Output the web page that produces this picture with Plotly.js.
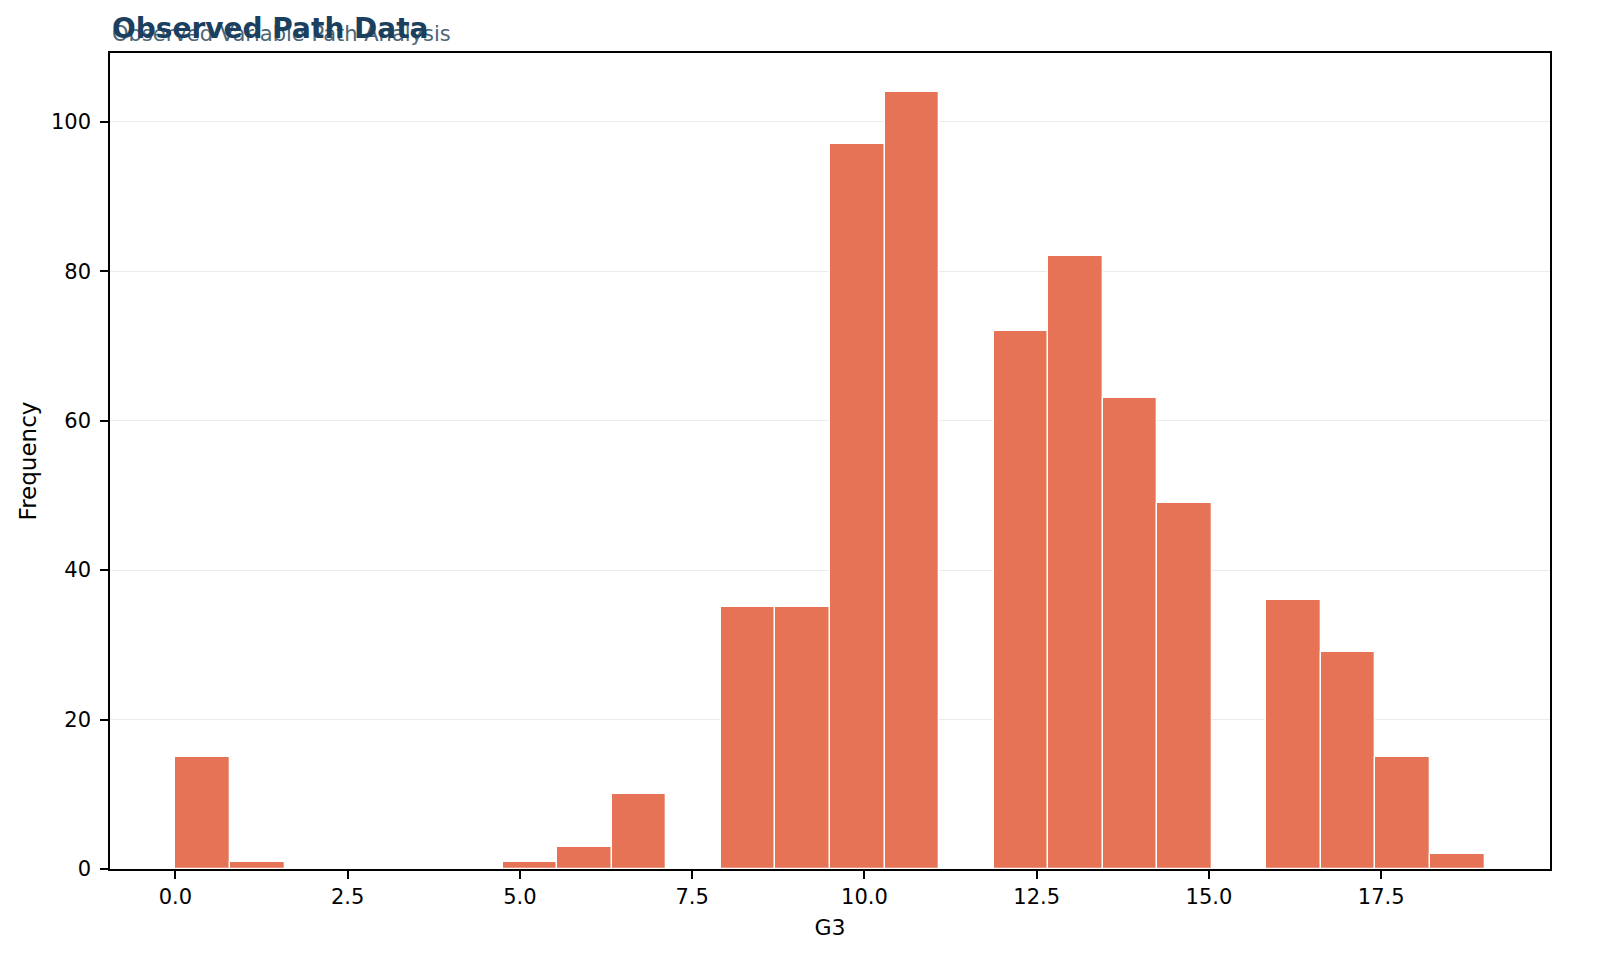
<!DOCTYPE html>
<html>
<head>
<meta charset="utf-8">
<script src="https://cdn.plot.ly/plotly-3.0.1.min.js"></script>
<style>
  html, body { margin: 0; padding: 0; background: #fff; }
  #chart { width: 1600px; height: 977px; }
</style>
</head>
<body>
<div id="chart"></div>
<script>
// G3 histogram: 24 equal bins between min and max grade
const binLo = 0;
const binHi = 19;
const binCounts = [15, 1, 0, 0, 0, 0, 1, 3, 10, 0, 35, 35, 97, 104, 0, 72, 82, 63, 49, 0, 36, 29, 15, 2];

const titleText = 'Observed Path Data';
const subtitleText = 'Observed Variable Path Analysis';
const xLabel = 'G3';
const yLabel = 'Frequency';

const binW = (binHi - binLo) / binCounts.length;
const centers = binCounts.map((_, i) => binLo + (i + 0.5) * binW);

const font = 'DejaVu Sans, sans-serif';

const trace = {
  type: 'bar',
  x: centers,
  y: binCounts,
  width: binW,
  marker: {
    color: '#e76f51',
    opacity: 0.97,
    line: { color: '#ffffff', width: 1.3 }
  },
  hoverinfo: 'x+y'
};

const layout = {
  width: 1600,
  height: 977,
  margin: { l: 110, r: 50, t: 53, b: 108 },
  paper_bgcolor: '#ffffff',
  plot_bgcolor: '#ffffff',
  showlegend: false,
  bargap: 0,
  font: { family: font, size: 21, color: '#000000' },
  xaxis: {
    range: [-0.95, 19.95],
    tick0: 0,
    dtick: 2.5,
    tickformat: '.1f',
    ticks: 'outside',
    ticklen: 8,
    tickwidth: 1.5,
    tickcolor: '#000',
    ticklabelstandoff: 0,
    showline: true,
    linecolor: '#000',
    linewidth: 1.5,
    mirror: true,
    showgrid: false,
    zeroline: false,
    title: { text: xLabel, font: { size: 22 }, standoff: 12 }
  },
  yaxis: {
    range: [0, 109.2],
    dtick: 20,
    ticks: 'outside',
    ticklen: 8,
    tickwidth: 1.5,
    tickcolor: '#000',
    ticklabelstandoff: 5,
    showline: true,
    linecolor: '#000',
    linewidth: 1.5,
    mirror: true,
    showgrid: true,
    gridcolor: '#ebebeb',
    gridwidth: 1,
    zeroline: false,
    title: { text: yLabel, font: { size: 23 }, standoff: 8 }
  },
  annotations: [
    {
      text: subtitleText,
      xref: 'paper', yref: 'paper',
      x: 0, y: 1, xanchor: 'left', yanchor: 'middle',
      yshift: 19,
      showarrow: false,
      font: { family: font, size: 21, color: '#4d6577' }
    },
    {
      text: '<b>' + titleText + '</b>',
      xref: 'paper', yref: 'paper',
      x: 0, y: 1, xanchor: 'left', yanchor: 'middle',
      yshift: 25,
      showarrow: false,
      font: { family: font, size: 28, color: '#1b3f5e' }
    }
  ]
};

Plotly.newPlot('chart', [trace], layout, { displayModeBar: false, responsive: false });
</script>
</body>
</html>
